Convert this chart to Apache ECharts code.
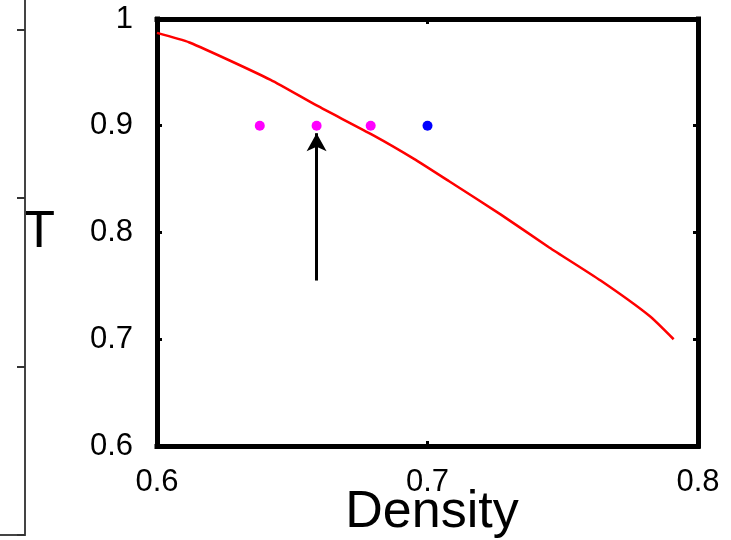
<!DOCTYPE html>
<html>
<head>
<meta charset="utf-8">
<script src="https://cdn.jsdelivr.net/npm/echarts@6/dist/echarts.min.js"></script>
<style>
  html,body{margin:0;padding:0;background:#fff;}
  #main{width:731px;height:540px;}
</style>
</head>
<body>
<div id="main"></div>
<script>
// red curve (density, T)
var curveX=[0.600,0.612,0.642,0.659,0.680,0.695,0.708,0.727,0.745,0.764,0.782,0.791];
var curveT=[0.987,0.978,0.943,0.919,0.891,0.869,0.848,0.817,0.786,0.755,0.722,0.700];

// state points at T = 0.9
var pinkX=[0.638,0.659,0.679];
var pinkT=[0.9,0.9,0.9];
var blueX=[0.700];
var blueT=[0.9];

// arrow pointing at the middle pink point
var arrowX=0.659;
var arrowT=[0.755,0.893];

// axis ticks
var xTicks=[0.6,0.7,0.8];
var yTicks=[0.6,0.7,0.8,0.9,1];

function pairs(xs,ys){
    var out=[];
    for(var i=0;i<xs.length;i++){
        out.push([xs[i],ys[i]]);
    }
    return out;
}

var font='"Liberation Sans", Arial, sans-serif';
var frame={show:true,lineStyle:{color:'#000',width:5,cap:'square'}};
var inTick={show:true,inside:true,length:5,lineStyle:{color:'#000',width:3}};
var sideLine={show:true,onZero:false,lineStyle:{color:'#444',width:2}};

var chart=echarts.init(document.getElementById('main'));
chart.setOption({
    backgroundColor:'#fff',
    animation:false,
    //x轴名称，用标题放到轴下方
    title:{
        text:'Density',left:432,top:487,textAlign:'center',padding:0,
        textStyle:{color:'#000',fontSize:52,fontWeight:'normal',fontFamily:font}
    },
    grid:[
        {left:157,right:33,top:19,bottom:94,outerBoundsMode:'none',containLabel:false},
        //左边残留的另一个面板
        {left:-300,width:325,top:-20,height:555,outerBoundsMode:'none',containLabel:false}
    ],
    xAxis:[
        {
            gridIndex:0,type:'value',position:'bottom',
            min:xTicks[0],max:xTicks[xTicks.length-1],interval:0.1,
            axisLine:frame,axisTick:inTick,splitLine:{show:false},
            axisLabel:{color:'#000',fontSize:31,fontFamily:font,margin:21}
        },
        {
            gridIndex:0,type:'value',position:'top',
            min:xTicks[0],max:xTicks[xTicks.length-1],interval:0.1,
            axisLine:frame,axisTick:inTick,splitLine:{show:false},
            axisLabel:{show:false}
        },
        {
            gridIndex:1,type:'value',min:0,max:1,position:'bottom',
            axisLine:sideLine,
            axisTick:{show:false},axisLabel:{show:false},splitLine:{show:false}
        }
    ],
    yAxis:[
        {
            gridIndex:0,type:'value',position:'left',
            min:yTicks[0],max:yTicks[yTicks.length-1],interval:0.1,
            axisLine:frame,axisTick:inTick,splitLine:{show:false},
            axisLabel:{color:'#000',fontSize:31,fontFamily:font,margin:24},
            name:'T',nameLocation:'middle',nameRotate:0,nameGap:102,
            nameTextStyle:{color:'#000',fontSize:52,fontFamily:font}
        },
        {
            gridIndex:0,type:'value',position:'right',
            min:yTicks[0],max:yTicks[yTicks.length-1],interval:0.1,
            axisLine:frame,axisTick:inTick,splitLine:{show:false},
            axisLabel:{show:false}
        },
        {
            gridIndex:1,type:'value',position:'right',min:0,max:3.294,interval:1,
            axisLine:sideLine,
            axisTick:{show:true,inside:true,length:8,lineStyle:{color:'#333',width:2}},
            axisLabel:{show:false},splitLine:{show:false}
        }
    ],
    series:[
        {
            type:'line',xAxisIndex:0,yAxisIndex:0,
            data:pairs(curveX,curveT),
            smooth:0.2,showSymbol:false,
            lineStyle:{color:'#ff0000',width:2.5}
        },
        {
            type:'scatter',xAxisIndex:0,yAxisIndex:0,
            data:pairs(pinkX,pinkT),symbolSize:10,
            itemStyle:{color:'#ff00ff',opacity:1}
        },
        {
            type:'scatter',xAxisIndex:0,yAxisIndex:0,
            data:pairs(blueX,blueT),symbolSize:10,
            itemStyle:{color:'#0000ff',opacity:1}
        },
        {
            type:'line',xAxisIndex:0,yAxisIndex:0,data:[],
            markLine:{
                silent:true,animation:false,
                symbol:['none','arrow'],symbolSize:[15,18],
                label:{show:false},
                lineStyle:{color:'#000',width:3,type:'solid'},
                data:[[{coord:[arrowX,arrowT[0]]},{coord:[arrowX,arrowT[1]]}]]
            }
        }
    ]
});
</script>
</body>
</html>
